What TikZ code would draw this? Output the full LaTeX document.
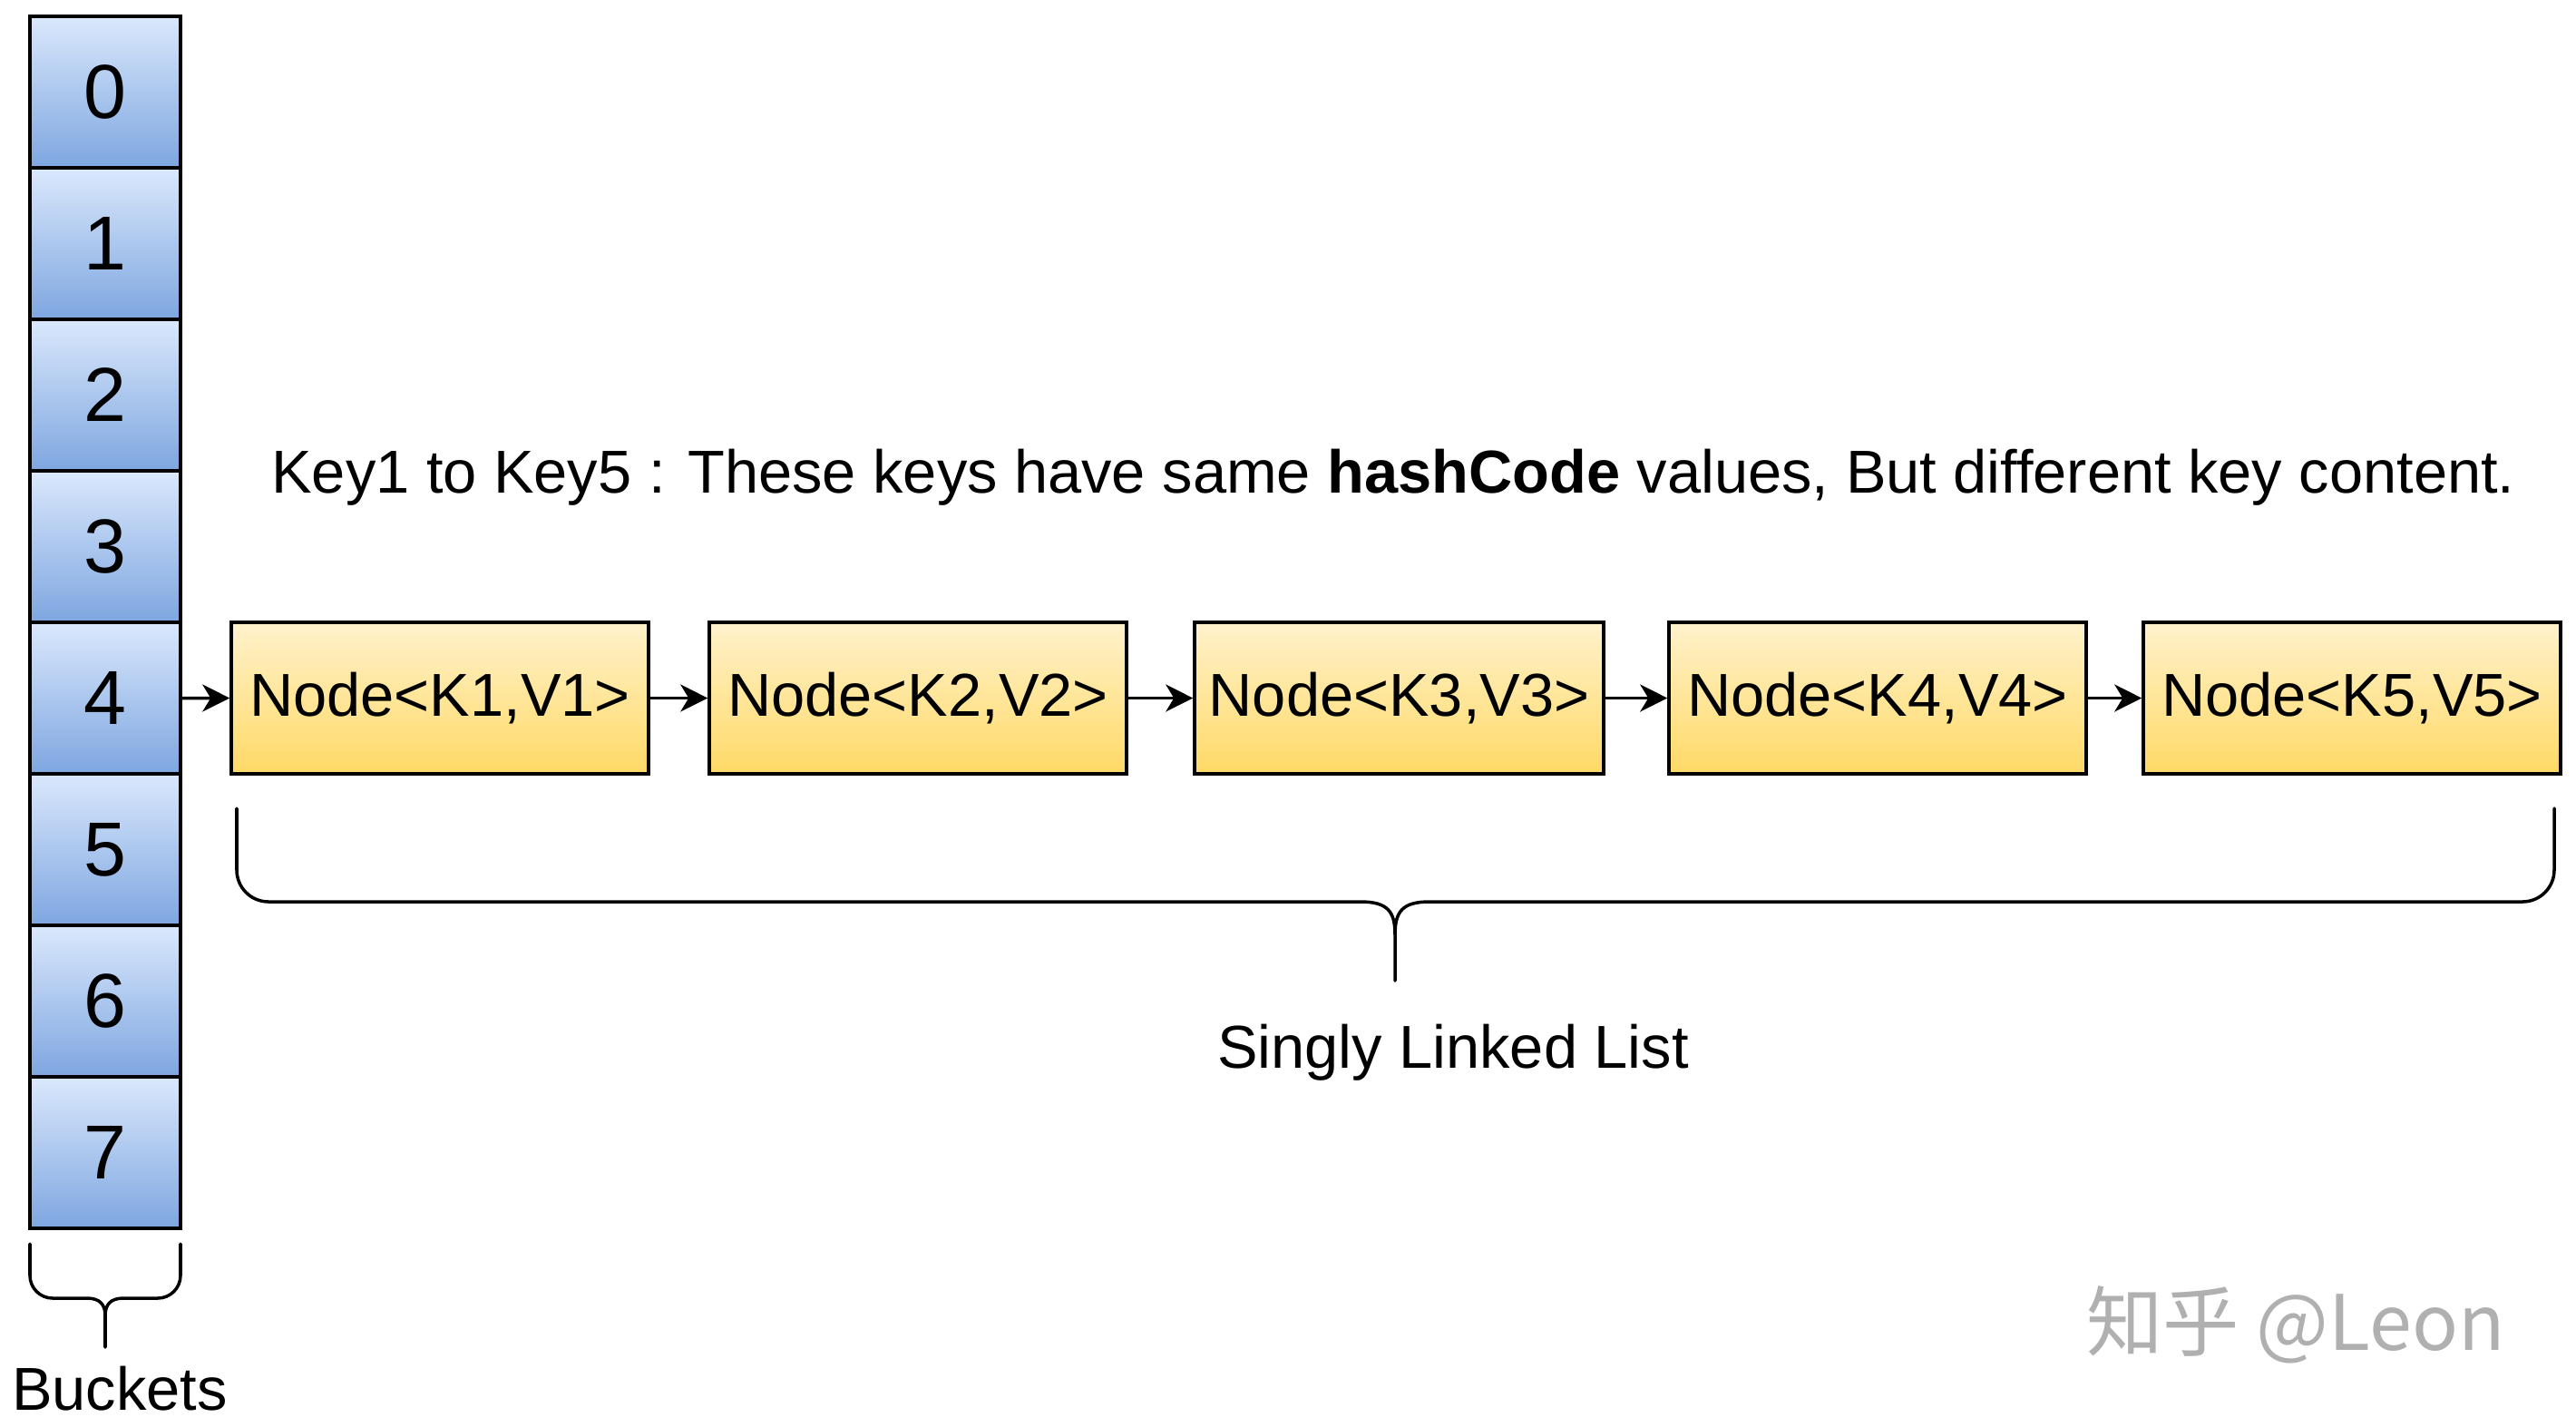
\documentclass[tikz,border=0pt]{standalone}
\usepackage{fontspec}
\setmainfont{Liberation Sans}
\newfontfamily\cjk{Noto Sans CJK SC}
\usetikzlibrary{arrows.meta}
\definecolor{bktop}{HTML}{DAE8FC}
\definecolor{bkbot}{HTML}{7EA6E0}
\definecolor{ndtop}{HTML}{FFF2CC}
\definecolor{ndbot}{HTML}{FFD966}
\definecolor{wmgray}{HTML}{B0B0B0}
\tikzset{
  bucket/.style={draw=black, line width=1pt, top color=bktop, bottom color=bkbot,
    minimum width=1.66cm, minimum height=1.67cm, inner sep=0pt,
    font=\fontsize{24}{28}\selectfont},
  listnode/.style={draw=black, line width=1pt, top color=ndtop, bottom color=ndbot,
    minimum height=1.67cm, inner sep=0pt, font=\fontsize{19}{23}\selectfont},
  link/.style={line width=1pt, -{Stealth[length=0.30cm,width=0.30cm,inset=0.09cm]}},
  bracepath/.style={line width=1pt, line cap=round},
  lbl/.style={anchor=base, inner sep=0pt, font=\fontsize{19}{23}\selectfont},
}
\begin{document}
\begin{tikzpicture}
\useasboundingbox[fill=white] (0,0) rectangle (28.40,-15.72);
% buckets
\foreach \i in {0,...,7}{
  \node[bucket] (b\i) at (1.16,{-1.015-1.67*\i}) {\i};
}
% list nodes
\node[listnode, minimum width=4.60cm] (n1) at (4.85,-7.695) {Node<K1,V1>};
\node[listnode, minimum width=4.60cm] (n2) at (10.12,-7.695) {Node<K2,V2>};
\node[listnode, minimum width=4.51cm] (n3) at (15.425,-7.695) {Node<K3,V3>};
\node[listnode, minimum width=4.60cm] (n4) at (20.70,-7.695) {Node<K4,V4>};
\node[listnode, minimum width=4.60cm] (n5) at (25.93,-7.695) {Node<K5,V5>};
% links
\draw[link] (b4.east) -- (n1.west);
\draw[link] (n1.east) -- (n2.west);
\draw[link] (n2.east) -- (n3.west);
\draw[link] (n3.east) -- (n4.west);
\draw[link] (n4.east) -- (n5.west);
% big brace
\draw[bracepath] (2.61,-8.91) -- (2.61,-9.59) arc[start angle=180, end angle=270, radius=0.35]
  -- (15.00,-9.94) .. controls (15.30,-9.94) and (15.38,-10.05) .. (15.38,-10.30) -- (15.38,-10.81);
\draw[bracepath] (28.16,-8.91) -- (28.16,-9.59) arc[start angle=0, end angle=-90, radius=0.35]
  -- (15.76,-9.94) .. controls (15.46,-9.94) and (15.38,-10.05) .. (15.38,-10.30);
% buckets brace
\draw[bracepath] (0.33,-13.71) -- (0.33,-14.06) arc[start angle=180, end angle=270, radius=0.25]
  -- (0.96,-14.31) .. controls (1.10,-14.31) and (1.16,-14.38) .. (1.16,-14.50) -- (1.16,-14.85);
\draw[bracepath] (1.99,-13.71) -- (1.99,-14.06) arc[start angle=0, end angle=-90, radius=0.25]
  -- (1.36,-14.31) .. controls (1.22,-14.31) and (1.16,-14.38) .. (1.16,-14.50);
% labels
\node[lbl] (title) at (15.36,-5.43) {Key1 to Key5 : These keys have same \textbf{hashCode} values, But different key content.};
\node[lbl] (sll) at (16.02,-11.77) {Singly Linked List};
\node[lbl] (bk) at (1.32,-15.54) {Buckets};
\node[anchor=base, inner sep=0pt, text=wmgray, font=\cjk\fontsize{24}{28}\selectfont] (wmk) at (25.31,-14.88) {知乎 @Leon};
\end{tikzpicture}
\end{document}
